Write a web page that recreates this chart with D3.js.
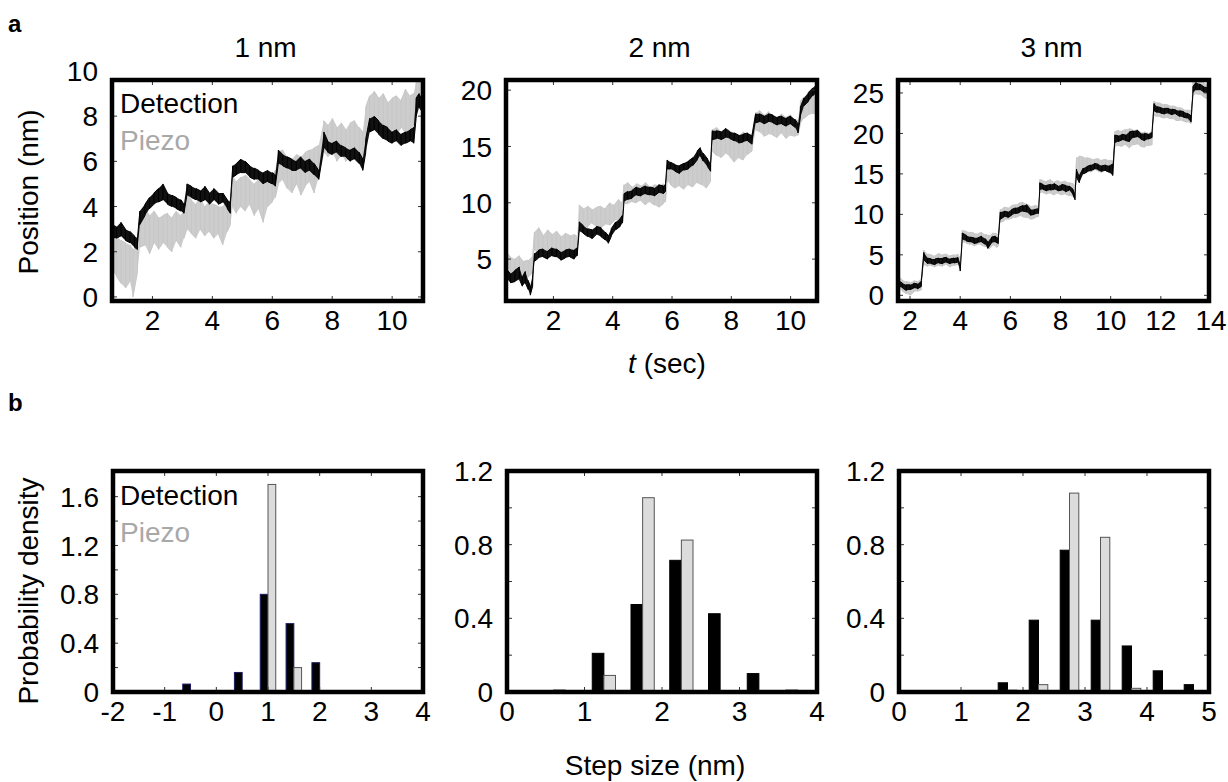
<!DOCTYPE html>
<meta charset="utf-8">
<style>
  body { margin: 0; background: #fff; }
  text { font-family: "Liberation Sans", Arial, sans-serif; font-size: 28px; fill: #000; }
  .frame { fill: none; stroke: #000; stroke-width: 4.5px; }
  .tk { stroke: #333; stroke-width: 1px; }
  .panel-letter { font-weight: bold; font-size: 24px; }
</style>
<body>
<script src="https://d3js.org/d3.v7.min.js"></script>
<script>
// ---------- traces: [t (s), low (nm), high (nm)] ----------
var a1Det = [[0.65,2.6,3.2],[0.8,2.6,3.1],[0.95,2.7,3.3],[1.1,2.5,3.0],[1.25,2.4,2.9],[1.4,2.2,2.7],[1.5,2.1,2.6],[1.58,3.2,3.8],[1.75,3.6,4.1],[1.9,3.9,4.4],[2.05,4.1,4.6],[2.2,4.2,4.8],[2.35,4.3,5.0],[2.5,4.1,4.6],[2.65,4.0,4.5],[2.8,3.9,4.4],[2.95,3.8,4.3],[3.05,3.7,4.1],[3.15,4.5,5.0],[3.3,4.4,4.9],[3.45,4.3,4.8],[3.6,4.2,4.7],[3.75,4.3,4.9],[3.9,4.1,4.6],[4.05,4.3,4.8],[4.2,4.1,4.6],[4.35,4.2,4.6],[4.5,3.9,4.3],[4.6,3.7,4.2],[4.68,5.3,5.8],[4.8,5.4,5.9],[4.95,5.5,6.1],[5.1,5.5,6.0],[5.25,5.3,5.8],[5.4,5.2,5.7],[5.55,5.2,5.6],[5.7,5.0,5.5],[5.85,5.1,5.6],[6.0,5.0,5.5],[6.1,4.9,5.4],[6.2,5.9,6.5],[6.35,5.8,6.3],[6.5,5.7,6.2],[6.65,5.6,6.1],[6.8,5.6,6.0],[6.95,5.7,6.2],[7.1,5.5,6.0],[7.25,5.6,6.1],[7.4,5.4,5.9],[7.55,5.2,5.6],[7.72,6.6,7.3],[7.85,6.4,6.9],[8.0,6.3,6.8],[8.15,6.4,6.9],[8.3,6.2,6.7],[8.45,6.2,6.6],[8.6,6.0,6.5],[8.75,6.1,6.6],[8.9,5.9,6.4],[9.02,5.6,6.1],[9.12,6.4,7.0],[9.25,7.3,7.9],[9.4,7.4,8.0],[9.55,7.2,7.8],[9.7,7.0,7.6],[9.85,6.9,7.5],[10.0,6.8,7.3],[10.15,6.9,7.4],[10.3,6.7,7.2],[10.45,6.8,7.3],[10.6,6.9,7.4],[10.72,6.8,7.5],[10.8,7.9,8.8],[10.9,8.4,9.0],[11.0,8.2,8.8]];
var a1Pzo = [[0.65,1.2,3.0],[0.8,0.9,2.7],[0.95,0.6,2.5],[1.1,0.4,2.4],[1.25,0.7,2.3],[1.35,0.0,2.1],[1.5,1.1,2.4],[1.58,2.2,3.7],[1.75,2.3,3.9],[1.9,1.9,3.6],[2.05,2.4,3.8],[2.2,2.1,3.5],[2.35,2.4,3.6],[2.5,2.2,3.7],[2.65,2.0,3.5],[2.8,2.5,3.8],[2.95,2.2,3.6],[3.05,2.6,3.8],[3.15,3.0,4.7],[3.3,2.8,4.3],[3.45,2.6,4.1],[3.6,3.0,4.4],[3.75,2.7,4.0],[3.9,2.9,4.2],[4.05,2.6,4.1],[4.2,2.8,4.0],[4.35,2.3,4.0],[4.5,2.9,4.2],[4.6,3.2,4.3],[4.68,4.0,5.4],[4.8,3.7,5.1],[4.95,4.0,5.3],[5.1,3.8,5.4],[5.25,4.1,5.2],[5.4,3.6,5.0],[5.55,3.9,5.2],[5.7,3.3,5.0],[5.85,4.0,5.3],[6.0,4.2,5.4],[6.1,4.4,5.6],[6.2,5.0,6.4],[6.35,5.2,6.5],[6.5,4.8,6.2],[6.65,4.6,6.1],[6.8,5.0,6.3],[6.95,4.5,6.2],[7.1,4.9,6.4],[7.25,5.1,6.5],[7.4,4.6,6.6],[7.55,5.3,6.7],[7.72,6.4,7.8],[7.85,6.2,7.6],[8.0,6.4,7.9],[8.15,6.0,7.5],[8.3,6.3,7.7],[8.45,6.0,7.4],[8.6,6.2,7.7],[8.75,6.3,7.8],[8.9,6.1,7.5],[9.02,6.0,7.3],[9.12,7.0,8.4],[9.25,7.4,8.9],[9.4,7.6,9.1],[9.55,7.3,8.8],[9.7,7.5,9.0],[9.85,7.0,8.6],[10.0,7.4,8.8],[10.15,7.2,8.9],[10.3,7.5,8.7],[10.45,7.2,9.2],[10.6,7.4,8.9],[10.72,7.6,9.0],[10.8,8.3,9.5],[10.9,8.5,9.7],[11.0,8.4,9.6]];

var a2Det = [[0.42,3.3,4.1],[0.55,2.9,3.7],[0.7,3.0,4.0],[0.85,3.2,4.3],[0.95,2.6,3.4],[1.05,2.9,3.9],[1.15,2.3,3.1],[1.22,1.8,2.6],[1.3,2.6,3.6],[1.36,4.8,5.5],[1.5,5.1,5.8],[1.65,5.2,5.9],[1.8,5.0,5.7],[1.95,5.3,6.0],[2.1,5.2,5.9],[2.25,4.9,5.6],[2.4,5.1,5.8],[2.55,5.2,5.9],[2.7,5.0,5.8],[2.8,5.3,6.0],[2.87,7.5,8.3],[3.0,7.3,8.0],[3.15,7.0,7.7],[3.3,6.8,7.6],[3.45,7.2,7.9],[3.6,7.0,7.8],[3.75,6.7,7.4],[3.85,6.4,7.1],[3.95,7.0,7.7],[4.1,7.6,8.3],[4.25,7.9,8.6],[4.33,8.2,8.9],[4.38,10.1,10.8],[4.5,10.3,11.0],[4.65,10.4,11.1],[4.8,10.7,11.4],[4.95,10.6,11.3],[5.1,10.8,11.5],[5.25,10.7,11.4],[5.4,10.6,11.3],[5.55,10.9,11.6],[5.7,10.8,11.5],[5.78,11.0,11.7],[5.84,13.0,13.8],[5.95,13.0,13.6],[6.1,12.8,13.4],[6.25,12.6,13.3],[6.4,12.9,13.5],[6.55,13.0,13.7],[6.7,13.3,14.0],[6.85,13.8,14.6],[6.95,14.2,14.9],[7.05,13.7,14.4],[7.2,13.2,13.9],[7.3,12.8,13.5],[7.36,15.6,16.4],[7.5,15.7,16.4],[7.65,15.6,16.3],[7.8,15.8,16.6],[7.95,15.7,16.3],[8.1,15.5,16.2],[8.25,15.3,16.0],[8.4,15.4,16.1],[8.55,15.5,16.2],[8.7,15.2,16.0],[8.82,17.1,17.9],[8.95,17.2,17.9],[9.1,17.0,17.7],[9.25,17.2,17.9],[9.4,17.1,17.8],[9.55,16.9,17.6],[9.7,17.0,17.7],[9.85,16.8,17.5],[10.0,17.0,17.7],[10.15,16.7,17.4],[10.25,16.2,17.0],[10.33,17.6,18.5],[10.45,18.6,19.3],[10.6,19.0,19.8],[10.75,19.5,20.2],[10.9,19.9,20.6]];
var a2Pzo = [[0.42,3.4,5.6],[0.55,3.6,5.2],[0.7,3.3,5.0],[0.85,3.5,5.3],[1.0,3.0,4.8],[1.15,3.4,4.9],[1.3,3.8,5.3],[1.36,5.8,7.4],[1.5,5.6,7.8],[1.65,5.5,7.1],[1.8,5.3,7.6],[1.95,5.6,7.2],[2.1,5.4,7.5],[2.25,5.5,7.0],[2.4,5.3,7.3],[2.55,5.6,7.1],[2.7,5.3,7.2],[2.8,5.6,7.0],[2.87,8.0,9.8],[3.0,8.1,9.5],[3.15,7.8,9.7],[3.3,8.2,9.4],[3.45,7.9,9.6],[3.6,7.8,9.7],[3.75,8.1,9.5],[3.9,8.0,10.0],[4.05,8.4,9.8],[4.2,8.5,10.3],[4.33,8.6,10.0],[4.38,10.0,11.6],[4.5,9.9,11.8],[4.65,10.1,11.4],[4.8,10.0,11.7],[4.95,10.2,11.5],[5.1,9.8,11.8],[5.25,10.1,11.4],[5.4,9.8,11.6],[5.55,9.6,11.5],[5.7,9.9,11.7],[5.78,10.1,11.4],[5.84,12.0,13.8],[5.95,11.6,13.5],[6.1,11.3,13.4],[6.25,11.5,13.2],[6.4,11.2,13.5],[6.55,11.6,13.7],[6.7,11.4,13.6],[6.85,11.8,14.1],[7.0,11.6,14.3],[7.15,11.3,13.8],[7.3,11.9,13.5],[7.36,14.6,16.5],[7.5,14.2,16.7],[7.65,14.0,16.3],[7.8,14.4,16.6],[7.95,14.1,16.4],[8.1,13.6,16.2],[8.25,14.0,16.0],[8.4,13.8,16.3],[8.55,14.3,15.9],[8.7,14.6,16.1],[8.82,16.5,18.0],[8.95,16.3,18.2],[9.1,15.9,17.8],[9.25,16.1,18.1],[9.4,16.0,17.6],[9.55,15.8,17.5],[9.7,16.2,17.9],[9.85,15.7,17.6],[10.0,16.0,17.8],[10.15,15.9,17.4],[10.25,16.0,17.3],[10.33,17.0,19.0],[10.45,17.5,19.4],[10.6,17.8,19.6],[10.75,17.9,20.0],[10.9,18.0,19.6]];

var a3Det = [[1.55,1.1,1.8],[1.7,0.9,1.5],[1.85,0.6,1.3],[2.0,0.7,1.3],[2.15,0.9,1.5],[2.3,0.8,1.4],[2.45,1.1,1.8],[2.55,4.4,5.3],[2.7,3.9,4.6],[2.85,3.9,4.5],[3.0,3.8,4.5],[3.15,4.0,4.6],[3.3,3.9,4.6],[3.45,4.1,4.7],[3.6,3.9,4.5],[3.75,4.0,4.6],[3.9,4.1,4.7],[4.0,3.0,3.7],[4.08,6.9,7.7],[4.25,6.7,7.4],[4.4,6.6,7.2],[4.55,6.4,7.1],[4.7,6.5,7.1],[4.85,6.6,7.3],[5.0,6.3,7.0],[5.1,5.8,6.6],[5.25,6.5,7.2],[5.4,6.6,7.3],[5.52,6.4,7.1],[5.6,9.4,10.3],[5.75,9.7,10.4],[5.9,9.6,10.3],[6.05,9.9,10.6],[6.2,10.1,10.8],[6.35,10.2,10.9],[6.5,10.4,11.1],[6.65,10.3,11.2],[6.8,9.9,10.6],[6.95,10.0,10.6],[7.12,10.1,10.7],[7.17,13.0,13.9],[7.3,13.1,13.7],[7.45,12.9,13.6],[7.6,13.0,13.7],[7.75,13.1,13.8],[7.9,12.9,13.5],[8.05,13.0,13.7],[8.2,12.8,13.6],[8.35,13.0,13.5],[8.5,12.4,13.1],[8.58,11.8,12.6],[8.64,14.6,15.6],[8.75,13.9,14.8],[8.9,15.0,15.7],[9.05,15.2,15.9],[9.2,15.4,16.1],[9.35,15.6,16.3],[9.5,15.5,16.2],[9.65,15.3,16.0],[9.8,15.4,16.1],[9.95,15.2,16.0],[10.08,14.8,16.2],[10.16,18.8,19.8],[10.3,19.0,19.7],[10.45,19.2,19.9],[10.6,19.1,19.8],[10.75,19.0,20.2],[10.9,19.5,20.3],[11.05,19.6,20.4],[11.2,19.3,20.0],[11.35,19.1,20.0],[11.5,19.3,19.9],[11.65,19.5,20.2],[11.73,22.8,23.7],[11.85,22.6,23.3],[12.0,22.5,23.2],[12.15,22.4,23.1],[12.3,22.5,23.1],[12.45,22.3,23.0],[12.6,22.4,22.9],[12.75,22.1,22.8],[12.9,22.0,22.7],[13.05,21.9,22.5],[13.2,21.4,22.2],[13.28,25.0,25.8],[13.4,25.4,26.3],[13.55,25.4,26.1],[13.7,25.1,25.8],[13.9,25.1,25.7]];
var a3Pzo = [[1.55,0.8,2.3],[1.7,0.5,1.9],[1.85,0.2,1.7],[2.0,0.0,1.6],[2.15,0.4,1.8],[2.3,0.5,1.7],[2.45,0.7,2.1],[2.55,3.8,5.6],[2.7,3.6,5.1],[2.85,3.7,5.0],[3.0,3.5,4.9],[3.15,3.7,5.2],[3.3,3.6,5.0],[3.45,3.8,5.1],[3.6,3.5,4.9],[3.75,3.7,5.0],[3.9,3.8,5.1],[4.0,3.4,4.6],[4.08,6.6,8.0],[4.25,6.4,7.9],[4.4,6.3,7.8],[4.55,6.1,7.7],[4.7,6.3,7.6],[4.85,6.2,7.8],[5.0,6.0,7.5],[5.15,5.7,7.4],[5.3,6.2,7.7],[5.45,5.9,7.6],[5.52,6.1,7.5],[5.6,9.0,10.6],[5.75,9.2,10.9],[5.9,9.4,10.8],[6.05,9.5,11.1],[6.2,9.6,11.2],[6.35,9.8,11.4],[6.5,9.7,11.5],[6.65,9.6,11.3],[6.8,9.4,11.0],[6.95,9.5,11.1],[7.12,9.7,11.0],[7.17,12.6,14.3],[7.3,12.7,14.2],[7.45,12.5,14.1],[7.6,12.6,14.3],[7.75,12.4,14.0],[7.9,12.6,14.2],[8.05,12.4,14.0],[8.2,12.5,14.1],[8.35,12.3,13.9],[8.5,12.2,13.8],[8.58,12.0,13.6],[8.64,15.2,17.0],[8.75,15.0,17.2],[8.9,15.3,17.1],[9.05,15.4,17.0],[9.2,15.2,16.9],[9.35,15.5,16.8],[9.5,15.3,16.9],[9.65,15.2,16.7],[9.8,15.4,16.8],[9.95,15.1,16.7],[10.08,15.0,16.6],[10.16,18.3,20.2],[10.3,18.5,20.4],[10.45,18.4,20.3],[10.6,18.6,20.5],[10.75,18.2,20.6],[10.9,18.6,20.4],[11.05,18.7,20.5],[11.2,18.4,20.1],[11.35,18.3,20.2],[11.5,18.5,20.0],[11.65,18.6,20.4],[11.73,22.2,24.0],[11.85,22.1,23.8],[12.0,22.0,23.7],[12.15,21.9,23.6],[12.3,21.9,23.5],[12.45,21.8,23.4],[12.6,21.6,23.3],[12.75,21.6,23.2],[12.9,21.5,23.0],[13.05,21.4,22.9],[13.2,21.2,22.8],[13.28,24.6,26.4],[13.4,24.9,26.6],[13.55,24.8,26.5],[13.7,24.5,26.3],[13.9,24.2,26.0]];

// ---------- histograms: bin centres and probability density ----------
var b1Bins = [-0.5, 0, 0.5, 1, 1.5, 2, 2.5];
var b1Det  = [0.065, 0, 0.16, 0.80, 0.56, 0.24, 0.01];
var b1Pzo  = [0, 0, 0, 1.70, 0.20, 0, 0];
var b2Bins = [0.75, 1.25, 1.75, 2.25, 2.75, 3.25, 3.75];
var b2Det  = [0.01, 0.21, 0.475, 0.715, 0.425, 0.10, 0.01];
var b2Pzo  = [0, 0.09, 1.055, 0.825, 0, 0, 0];
var b3Bins = [1.75, 2.25, 2.75, 3.25, 3.75, 4.25, 4.75];
var b3Det  = [0.05, 0.39, 0.77, 0.39, 0.25, 0.115, 0.04];
var b3Pzo  = [0.01, 0.04, 1.08, 0.84, 0.02, 0, 0];

// ---------- ticks ----------
var a1XTicks = [2, 4, 6, 8, 10],  a1YTicks = [0, 2, 4, 6, 8, 10];
var a2XTicks = [2, 4, 6, 8, 10],  a2YTicks = [5, 10, 15, 20];
var a3XTicks = [2, 4, 6, 8, 10, 12, 14], a3YTicks = [0, 5, 10, 15, 20, 25];
var b1XTicks = [-2, -1, 0, 1, 2, 3, 4], b1YTicks = [0, 0.4, 0.8, 1.2, 1.6];
var b2XTicks = [0, 1, 2, 3, 4], b2YTicks = [0, 0.4, 0.8, 1.2];
var b3XTicks = [0, 1, 2, 3, 4, 5], b3YTicks = [0, 0.4, 0.8, 1.2];
var titles = ["1 nm", "2 nm", "3 nm"];

// layout
var colX = [112, 506, 898], panelW = 311;
var topY = [80, 301], botY = [471, 692];

var svg = d3.select("body").append("svg")
  .attr("width", 1228).attr("height", 782);

var defs = svg.append("defs");

function txt(g, x, y, s, anchor) {
  return g.append("text").attr("x", x).attr("y", y)
    .attr("text-anchor", anchor || "start").text(s);
}

function frameAndTicks(g, x, y, xTicks, yTicks, xMinor, yMinor, fmtY) {
  var x0 = x.range()[0], x1 = x.range()[1], y0 = y.range()[1], y1 = y.range()[0];
  var tl = 5;
  (xMinor || xTicks).forEach(function (v) {
    if (x(v) <= x0 + 2 || x(v) >= x1 - 2) return;
    g.append("line").attr("class", "tk").attr("x1", x(v)).attr("x2", x(v)).attr("y1", y1).attr("y2", y1 - tl);
    g.append("line").attr("class", "tk").attr("x1", x(v)).attr("x2", x(v)).attr("y1", y0).attr("y2", y0 + tl);
  });
  (yMinor || yTicks).forEach(function (v) {
    if (y(v) >= y1 - 2 || y(v) <= y0 + 2) return;
    g.append("line").attr("class", "tk").attr("x1", x0).attr("x2", x0 + tl).attr("y1", y(v)).attr("y2", y(v));
    g.append("line").attr("class", "tk").attr("x1", x1).attr("x2", x1 - tl).attr("y1", y(v)).attr("y2", y(v));
  });
  g.append("rect").attr("class", "frame")
    .attr("x", x0).attr("y", y0).attr("width", x1 - x0).attr("height", y1 - y0);
  xTicks.forEach(function (v) { txt(g, x(v), y1 + 29, String(v), "middle"); });
  yTicks.forEach(function (v) {
    txt(g, x0 - 14, y(v), fmtY ? fmtY(v) : String(v), "end").attr("dy", "0.36em");
  });
}

function tracePanel(i, xDom, yDom, xTicks, yTicks, det, pzo) {
  var g = svg.append("g");
  var x = d3.scaleLinear().domain(xDom).range([colX[i], colX[i] + panelW]);
  var y = d3.scaleLinear().domain(yDom).range([topY[1], topY[0]]);
  var clipId = "clipA" + i;
  defs.append("clipPath").attr("id", clipId).append("rect")
    .attr("x", colX[i]).attr("y", topY[0]).attr("width", panelW).attr("height", topY[1] - topY[0]);
  var area = d3.area().x(function (d) { return x(d[0]); })
    .y0(function (d) { return y(d[1]); }).y1(function (d) { return y(d[2]); });
  // min/max columns joined as a sawtooth, the way a dense trace renders
  var saw = d3.line().x(function (d) { return x(d[0]); }).y(function (d) { return y(d[1]); });
  function sawPts(arr) {
    var out = [];
    arr.forEach(function (d, k) {
      if (k % 2) out.push([d[0], d[2]], [d[0], d[1]]);
      else out.push([d[0], d[1]], [d[0], d[2]]);
    });
    return out;
  }
  var c = g.append("g").attr("clip-path", "url(#" + clipId + ")");
  c.append("path").attr("d", area(pzo)).attr("fill", "#cdcdcd");
  c.append("path").attr("d", saw(sawPts(pzo))).attr("fill", "none").attr("stroke", "#c6c6c6").attr("stroke-width", 1);
  c.append("path").attr("d", area(det)).attr("fill", "#111");
  c.append("path").attr("d", saw(sawPts(det))).attr("fill", "none").attr("stroke", "#000").attr("stroke-width", 1);
  frameAndTicks(g, x, y, xTicks, yTicks);
  txt(g, colX[i] + panelW / 2 - 2, 57, titles[i], "middle");
  return g;
}

function histPanel(i, xDom, yDom, xTicks, yTicks, bins, det, pzo, edge) {
  var g = svg.append("g");
  var x = d3.scaleLinear().domain(xDom).range([colX[i] + 1, colX[i] + panelW]);
  var y = d3.scaleLinear().domain(yDom).range([botY[1], botY[0]]);
  var w = 0.15;
  var rows = bins.map(function (c, k) { return { c: c, det: det[k], pzo: pzo[k] }; });
  g.selectAll(".det").data(rows.filter(function (d) { return d.det > 0; })).enter().append("rect")
    .attr("x", function (d) { return x(d.c - w); })
    .attr("width", function (d) { return x(d.c) - x(d.c - w); })
    .attr("y", function (d) { return y(d.det); })
    .attr("height", function (d) { return y(0) - y(d.det); })
    .attr("fill", "#000").attr("stroke", edge).attr("stroke-width", 1);
  g.selectAll(".pzo").data(rows.filter(function (d) { return d.pzo > 0; })).enter().append("rect")
    .attr("x", function (d) { return x(d.c); })
    .attr("width", function (d) { return x(d.c + w) - x(d.c); })
    .attr("y", function (d) { return y(d.pzo); })
    .attr("height", function (d) { return y(0) - y(d.pzo); })
    .attr("fill", "#dcdcdc").attr("stroke", "#555").attr("stroke-width", 1);
  var minorY = d3.range(0.2, yDom[1], 0.2);
  frameAndTicks(g, x, y, xTicks, yTicks, null, minorY, function (v) { return v === 0 ? "0" : v.toFixed(1); });
  return g;
}

tracePanel(0, [0.65, 11.03], [-0.18, 9.6], a1XTicks, a1YTicks, a1Det, a1Pzo);
tracePanel(1, [0.4, 10.89], [1.28, 20.9], a2XTicks, a2YTicks, a2Det, a2Pzo);
tracePanel(2, [1.52, 13.92], [-0.7, 26.6], a3XTicks, a3YTicks, a3Det, a3Pzo);

histPanel(0, [-2, 4], [0, 1.81], b1XTicks, b1YTicks, b1Bins, b1Det, b1Pzo, "#1a1a66");
histPanel(1, [0, 4], [0, 1.2], b2XTicks, b2YTicks, b2Bins, b2Det, b2Pzo, "#000");
histPanel(2, [0, 5], [0, 1.2], b3XTicks, b3YTicks, b3Bins, b3Det, b3Pzo, "#000");

// legends
[[113, 150], [505, 542]].forEach(function (p) {
  txt(svg, 120, p[0], "Detection");
  txt(svg, 120, p[1], "Piezo").style("fill", "#a8a8a8");
});

// panel letters and axis titles
txt(svg, 8, 32, "a").attr("class", "panel-letter");
txt(svg, 8, 411, "b").attr("class", "panel-letter");

var tl = svg.append("text").attr("x", 667).attr("y", 373).attr("text-anchor", "middle");
tl.append("tspan").style("font-style", "italic").text("t");
tl.append("tspan").text(" (sec)");
txt(svg, 655, 775, "Step size (nm)", "middle");

svg.append("text").attr("transform", "translate(38,192) rotate(-90)")
  .attr("text-anchor", "middle").text("Position (nm)");
svg.append("text").attr("transform", "translate(38,591) rotate(-90)")
  .attr("text-anchor", "middle").text("Probability density");
</script>
</body>
